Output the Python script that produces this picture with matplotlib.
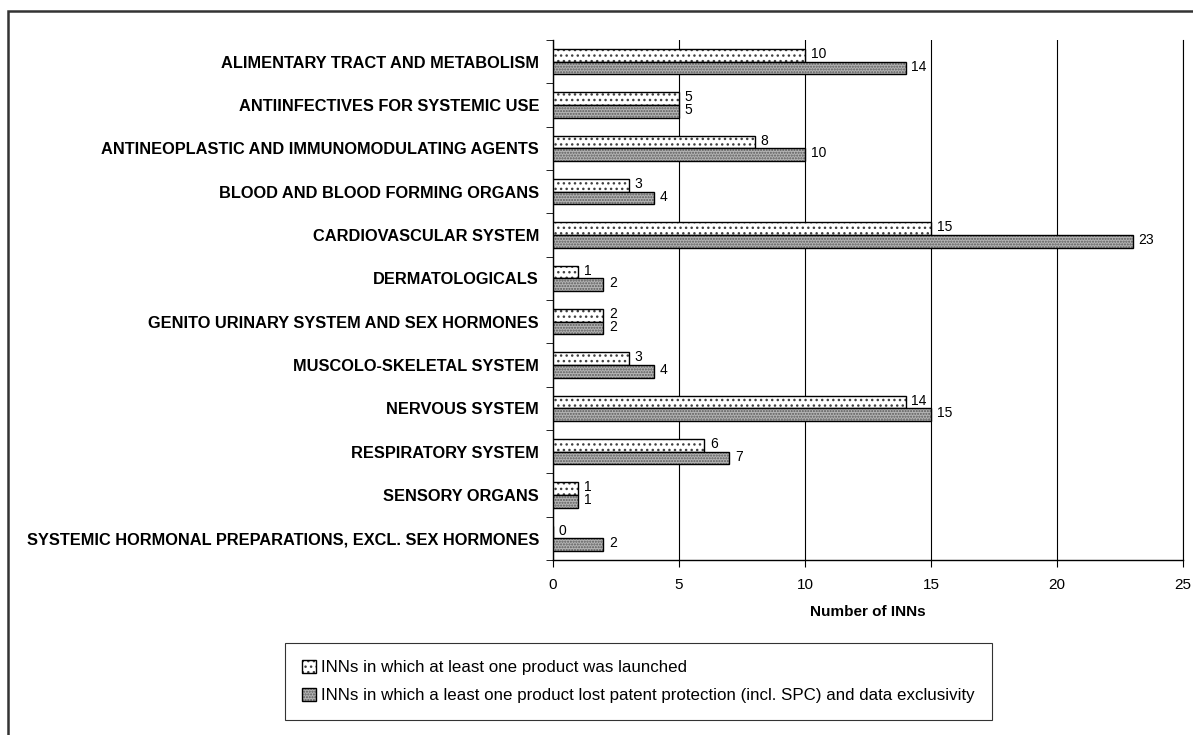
import numpy as np
import matplotlib.pyplot as plt
from matplotlib.colors import to_rgba
from matplotlib.patches import Rectangle

plt.rcParams['font.family'] = ['Liberation Sans', 'DejaVu Sans']
plt.rcParams['hatch.linewidth'] = 1.0

categories = [
    "ALIMENTARY TRACT AND METABOLISM",
    "ANTIINFECTIVES FOR SYSTEMIC USE",
    "ANTINEOPLASTIC AND IMMUNOMODULATING AGENTS",
    "BLOOD AND BLOOD FORMING ORGANS",
    "CARDIOVASCULAR SYSTEM",
    "DERMATOLOGICALS",
    "GENITO URINARY SYSTEM AND SEX HORMONES",
    "MUSCOLO-SKELETAL SYSTEM",
    "NERVOUS SYSTEM",
    "RESPIRATORY SYSTEM",
    "SENSORY ORGANS",
    "SYSTEMIC HORMONAL PREPARATIONS, EXCL. SEX HORMONES",
]
launched = [10, 5, 8, 3, 15, 1, 2, 3, 14, 6, 1, 0]
lost_protection = [14, 5, 10, 4, 23, 2, 2, 4, 15, 7, 1, 2]
legend_labels = [
    "INNs in which at least one product was launched",
    "INNs in which a least one product lost patent protection (incl. SPC) and data exclusivity",
]

fig = plt.figure(figsize=(11.93, 7.35), dpi=100)
ax = fig.add_axes([553 / 1193, 1 - 560 / 735, (1183 - 553) / 1193, (560 - 40) / 735])

y = np.arange(len(categories))
h = 0.29
b1 = ax.barh(y - h / 2, launched, height=h, color='white', edgecolor='black',
             hatch='...', linewidth=1.0, label=legend_labels[0], zorder=3)
b2 = ax.barh(y + h / 2, lost_protection, height=h, color='#b4b4b4', edgecolor='black',
             hatch='......', linewidth=1.0, label=legend_labels[1], zorder=3)
# hatch colour follows the edge colour by default, soften the dots a bit
for patch in b1:
    patch._hatch_color = to_rgba('#404040')
for patch in b2:
    patch._hatch_color = to_rgba('#5a5a5a')

for bars, vals in ((b1, launched), (b2, lost_protection)):
    for rect, v in zip(bars, vals):
        ax.annotate(str(v), (rect.get_width(), rect.get_y() + rect.get_height() / 2),
                    xytext=(4, 1), textcoords='offset points', va='center', ha='left',
                    fontsize=10)

ax.set_xlim(0, 25)
ax.set_ylim(len(categories) - 0.5, -0.5)
ax.set_xticks(range(0, 26, 5))
ax.set_yticks(y)
ax.set_yticklabels(categories, fontsize=11.8, fontweight='bold')
ax.set_yticks(np.arange(-0.5, len(categories), 1), minor=True)
ax.tick_params(axis='y', which='major', length=0, pad=10)
ax.tick_params(axis='y', which='minor', length=5, direction='out')
ax.tick_params(axis='x', length=5, direction='out', labelsize=11, pad=8)
ax.grid(axis='x', color='black', linewidth=0.8, zorder=0)
ax.axvline(25, color='black', linewidth=0.8, zorder=0, clip_on=False)
ax.set_axisbelow(True)
for s in ('top', 'right'):
    ax.spines[s].set_visible(False)
ax.spines['left'].set_linewidth(1.0)
ax.spines['bottom'].set_linewidth(1.0)
ax.set_xlabel("Number of INNs", fontsize=11, fontweight='bold', labelpad=9)

leg = fig.legend(handles=[b1, b2], loc='upper left',
                 bbox_to_anchor=(285 / 1193, 1 - 643 / 735), fontsize=12.2,
                 frameon=True, fancybox=False, edgecolor='black',
                 handlelength=0.8, handleheight=0.8, handletextpad=0.35,
                 labelspacing=0.75, borderpad=1.0, borderaxespad=0)
leg.get_frame().set_linewidth(0.8)

fig.patches.append(Rectangle((8 / 1193, -0.02), 1.0, 1 - 11 / 735 + 0.02,
                             transform=fig.transFigure, fill=False,
                             edgecolor='#333333', linewidth=1.8))

fig.savefig('out.png', dpi=100)
